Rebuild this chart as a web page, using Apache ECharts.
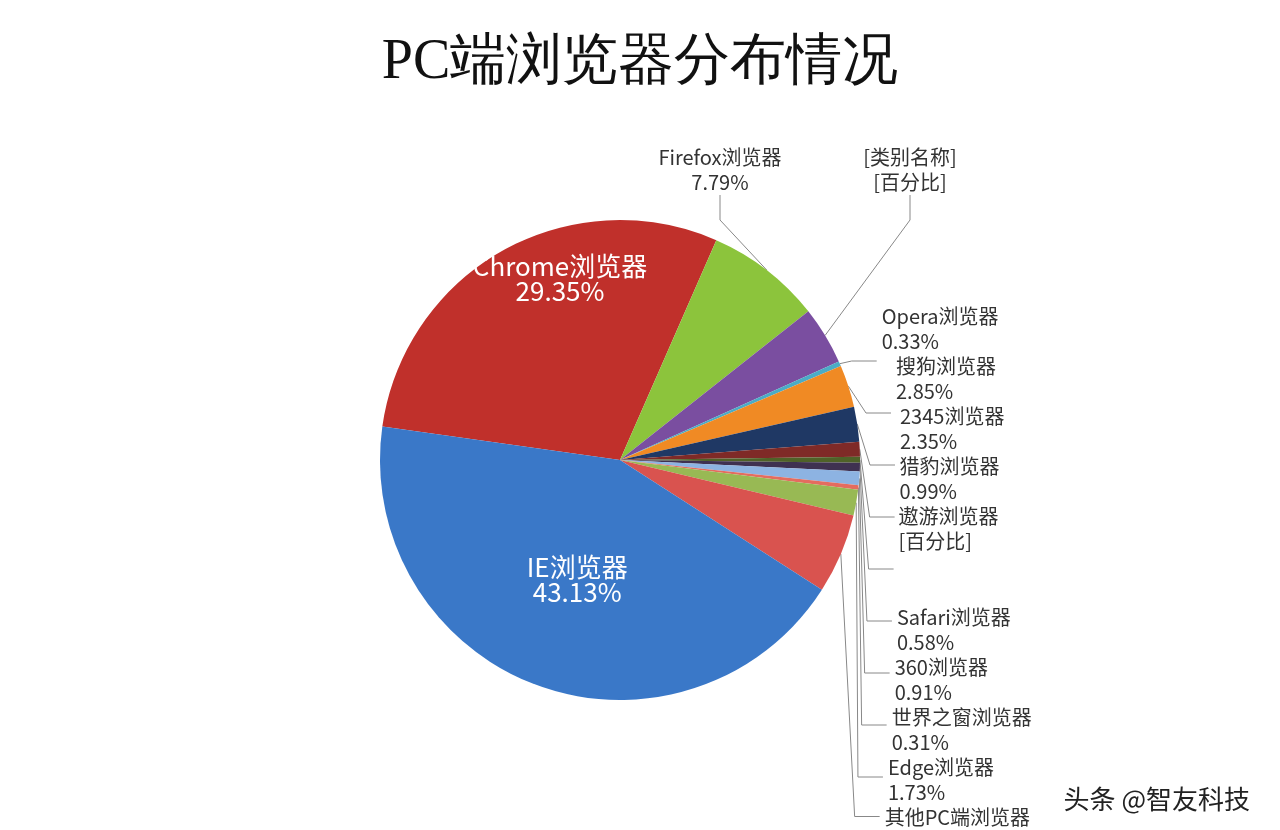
<!DOCTYPE html>
<html><head><meta charset="utf-8">
<script src="https://cdn.jsdelivr.net/npm/echarts@6/dist/echarts.min.js"></script>
<style>html,body{margin:0;padding:0;background:#fff}#c{width:1280px;height:830px}</style>
</head><body><div id="c"></div>
<script>
const categories = ['Chrome浏览器','Firefox浏览器','[类别名称]','Opera浏览器','搜狗浏览器','2345浏览器','猎豹浏览器','遨游浏览器','Safari浏览器','360浏览器','世界之窗浏览器','Edge浏览器','其他PC端浏览器','IE浏览器'];
const values = [29.35,7.79,3.9,0.33,2.85,2.35,0.99,0.4,0.58,0.91,0.31,1.73,5.38,43.13];
const pctLabels = ['29.35%','7.79%','[百分比]','0.33%','2.85%','2.35%','0.99%','[百分比]','0.58%','0.91%','0.31%','1.73%','','43.13%'];
const colors = ['#c0302b','#8cc43c','#7a4ea0','#4bacc6','#f08a24','#1f3864','#7f2a27','#4f6228','#3f3151','#8db3e2','#e46c5f','#98b954','#d9534f','#3a78c8'];
const fixedPos = {1:[720,170], 2:[910,170]};
const data = categories.map((n,i)=>{
  const d = {name:n, value:values[i], itemStyle:{color:colors[i]}};
  if (i===0 || i===13) d.label = {position:'inside', color:'#fff', fontSize:26};
  return d;
});
const chart = echarts.init(document.getElementById('c'));
chart.setOption({
  title:{text:'PC端浏览器分布情况', left:'center', top:30, textStyle:{fontFamily:'serif', fontSize:56, fontWeight:'normal', color:'#111'}},
  graphic:[{type:'text', right:30, bottom:18, style:{text:'头条 @智友科技', fontSize:26, fill:'#222', fontFamily:'Noto Sans CJK SC'}}],
  series:[{
    type:'pie', center:[620,460], radius:240, startAngle:172, clockwise:true,
    data:data,
    label:{formatter:p=>pctLabels[p.dataIndex] ? p.name+'\n'+pctLabels[p.dataIndex] : p.name, fontSize:20, color:'#333', lineHeight:25, fontFamily:'Noto Sans CJK SC'},
    labelLine:{length:15, length2:25, lineStyle:{color:'#888'}},
    labelLayout:function(p){
      const f = fixedPos[p.dataIndex];
      if (f) return {x:f[0], y:f[1], align:'center', verticalAlign:'middle'};
      return {hideOverlap:false, moveOverlap:'shiftY'};
    },
    itemStyle:{borderColor:'#fff', borderWidth:0}
  }]
});
</script></body></html>
